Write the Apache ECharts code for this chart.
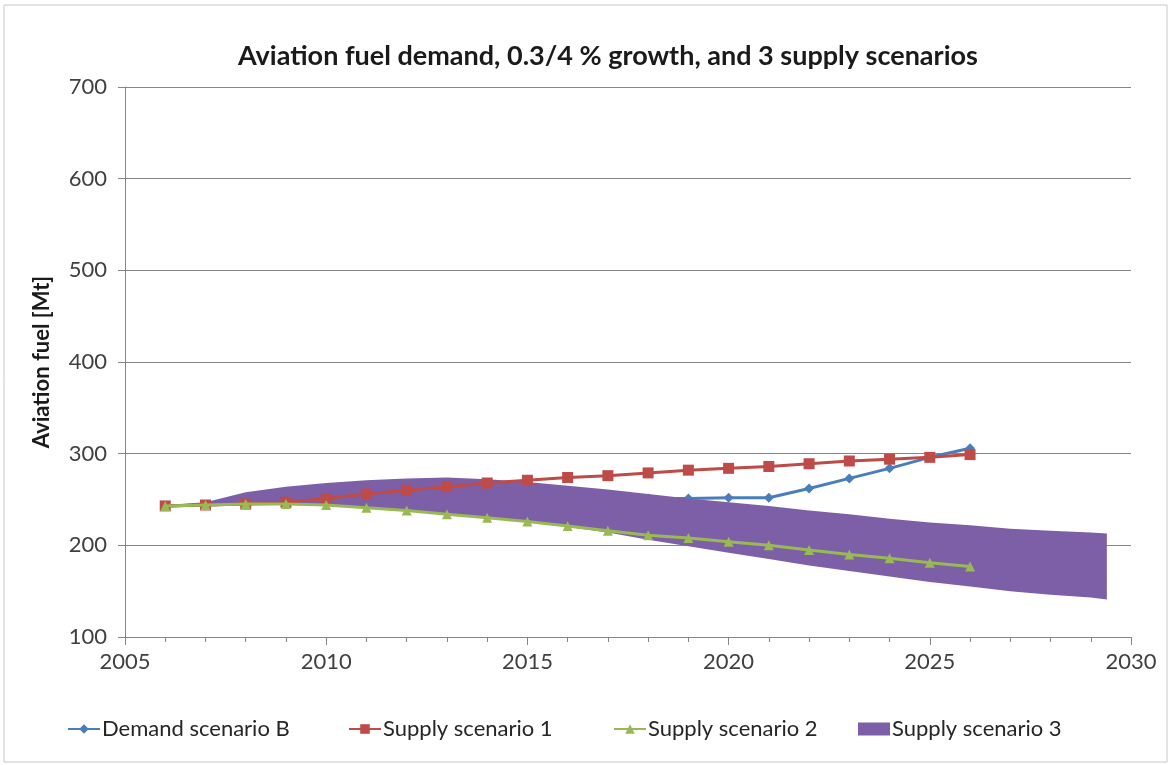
<!DOCTYPE html>
<html>
<head>
<meta charset="utf-8">
<script src="https://cdn.jsdelivr.net/npm/echarts@6/dist/echarts.min.js"></script>
<style>
  html, body { margin: 0; padding: 0; background: #fff; }
  #chart { width: 1173px; height: 765px; }
</style>
</head>
<body>
<div id="chart"></div>
<script>
// years for the line series
const years = [2006, 2007, 2008, 2009, 2010, 2011, 2012, 2013, 2014, 2015, 2016,
  2017, 2018, 2019, 2020, 2021, 2022, 2023, 2024, 2025, 2026];

const demandB = [243, 244, 245, 246, 247, 248, 249, 250, 250, 251, 251,
  251, 251, 251, 252, 252, 262, 273, 284, 296, 306];
const supply1 = [243, 244, 245, 247, 251, 256, 260, 264, 268, 271, 274,
  276, 279, 282, 284, 286, 289, 292, 294, 296, 299];
const supply2 = [243, 244, 245, 245, 244, 241, 238, 234, 230, 226, 221,
  216, 211, 208, 204, 200, 195, 190, 186, 181, 177];

// supply scenario 3 is a band (lower / upper edge)
const bandYears = [2006, 2007, 2008, 2009, 2010, 2011, 2012, 2013, 2014, 2015, 2016,
  2017, 2018, 2019, 2020, 2021, 2022, 2023, 2024, 2025, 2026, 2027, 2028, 2029, 2029.4];
const bandLower = [244, 244, 245, 245, 244, 241, 238, 234, 230, 226, 220,
  214, 206, 199, 192, 185, 178, 172, 166, 160, 155, 150, 146, 143, 141];
const bandUpper = [244, 247, 258, 264, 268, 271, 273, 274, 272, 269, 265,
  261, 256, 251, 247, 243, 238, 234, 229, 225, 222, 218, 216, 214, 213];

const seriesNames = ['Demand scenario B', 'Supply scenario 1', 'Supply scenario 2', 'Supply scenario 3'];

const pairs = (xs, ys) => xs.map((x, i) => [x, ys[i]]);

const font = 'Lato, "Open Sans", sans-serif';
const purple = '#7D5FA7';
const chart = echarts.init(document.getElementById('chart'));

// one legend per entry so each can sit where the original puts it
const legendLeft = [62, 343, 608, 853];
const legends = seriesNames.map((name, i) => ({
  left: legendLeft[i],
  top: 713,
  itemWidth: 32,
  itemHeight: i === 3 ? 13 : 12,
  itemGap: 0,
  data: [i === 3 ? { name, icon: 'rect' } : { name }],
  textStyle: { fontFamily: font, fontSize: 22, color: '#262626', padding: [0, 0, 0, -3] }
}));

const option = {
  animation: false,
  title: {
    text: 'Aviation fuel demand, 0.3/4 % growth, and 3 supply scenarios',
    left: 233,
    top: 38,
    textStyle: { fontFamily: font, fontSize: 27, fontWeight: 'bold', color: '#1a1a1a' }
  },
  graphic: [{
    type: 'rect',
    shape: { x: 4, y: 5, width: 1163, height: 757 },
    style: { fill: 'none', stroke: '#c8c8c8', lineWidth: 1 },
    silent: true
  }],
  legend: legends,
  grid: { left: 125, right: 42, top: 87, bottom: 128 },
  xAxis: {
    type: 'value',
    min: 2005,
    max: 2030,
    interval: 5,
    axisLine: { lineStyle: { color: '#868686' } },
    axisTick: { length: 8, lineStyle: { color: '#868686' } },
    minorTick: { show: true, splitNumber: 5, length: 5, lineStyle: { color: '#868686' } },
    splitLine: { show: false },
    axisLabel: {
      fontFamily: font, fontSize: 22, color: '#404040', margin: 14,
      formatter: v => String(v)
    }
  },
  yAxis: {
    type: 'value',
    min: 100,
    max: 700,
    interval: 100,
    name: 'Aviation fuel [Mt]',
    nameLocation: 'middle',
    nameGap: 72,
    nameTextStyle: { fontFamily: font, fontSize: 22, fontWeight: 'bold', color: '#1a1a1a' },
    axisLine: { show: true, lineStyle: { color: '#868686' } },
    axisTick: { show: true, length: 7, lineStyle: { color: '#868686' } },
    splitLine: { lineStyle: { color: '#868686', width: 1 } },
    axisLabel: { fontFamily: font, fontSize: 22, color: '#404040', margin: 18 }
  },
  series: [
    {
      name: 'Demand scenario B',
      type: 'line',
      data: pairs(years, demandB),
      symbol: 'diamond',
      symbolSize: 10,
      lineStyle: { width: 3, color: '#4A7EBB' },
      itemStyle: { color: '#4A7EBB' },
      z: 1
    },
    {
      name: 'Supply scenario 3',
      type: 'custom',
      data: bandYears.map((x, i) => [x, bandLower[i], bandUpper[i]]),
      encode: { x: 0, y: [1, 2] },
      itemStyle: { color: purple },
      z: 2,
      // whole band drawn as one polygon: upper edge forward, lower edge back
      renderItem: (params, api) => {
        if (params.dataIndex !== 0) return null;
        const top = bandYears.map((x, i) => api.coord([x, bandUpper[i]]));
        const bottom = bandYears.map((x, i) => api.coord([x, bandLower[i]])).reverse();
        return {
          type: 'polygon',
          shape: { points: top.concat(bottom) },
          style: { fill: purple }
        };
      }
    },
    {
      name: 'Supply scenario 1',
      type: 'line',
      data: pairs(years, supply1),
      symbol: 'rect',
      symbolSize: 11,
      lineStyle: { width: 3, color: '#BE4B48' },
      itemStyle: { color: '#BE4B48' },
      z: 3
    },
    {
      name: 'Supply scenario 2',
      type: 'line',
      data: pairs(years, supply2),
      symbol: 'triangle',
      symbolSize: 10,
      lineStyle: { width: 3, color: '#98B954' },
      itemStyle: { color: '#98B954' },
      z: 4
    }
  ]
};

chart.setOption(option);
</script>
</body>
</html>
